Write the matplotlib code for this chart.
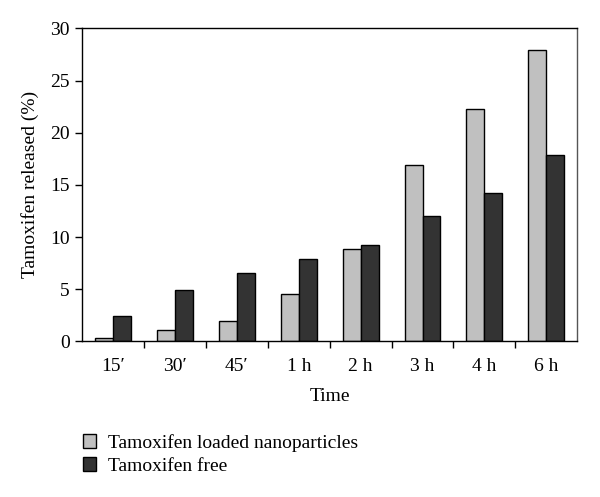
import numpy as np
import matplotlib.pyplot as plt

# data
times = ["15\u2032", "30\u2032", "45\u2032", "1 h", "2 h", "3 h", "4 h", "6 h"]
loaded_np = [0.35, 1.05, 2.0, 4.5, 8.9, 16.9, 22.3, 27.9]
free = [2.45, 4.9, 6.55, 7.9, 9.2, 12.0, 14.2, 17.9]

plt.rcParams['font.family'] = ['Liberation Serif', 'DejaVu Serif']
plt.rcParams['font.size'] = 14

fig = plt.figure(figsize=(6, 4.97), dpi=100)
ax = fig.add_axes([0.137, 0.313, 0.825, 0.630])

x = np.arange(len(times))
w = 0.29
ax.bar(x - w / 2, loaded_np, w, color='#c0c0c0', edgecolor='black',
       linewidth=1, label='Tamoxifen loaded nanoparticles')
ax.bar(x + w / 2, free, w, color='#333333', edgecolor='black',
       linewidth=1, label='Tamoxifen free')

ax.set_xlim(-0.5, len(times) - 0.5)
ax.set_ylim(0, 30)
ax.set_yticks(np.arange(0, 31, 5))
ax.set_xticks(x)
ax.set_xticklabels(times)
ax.set_xticks(np.arange(0.5, len(times) - 0.5, 1), minor=True)
ax.tick_params(axis='x', which='major', length=0, pad=12)
ax.tick_params(axis='x', which='minor', length=5, direction='out', width=1)
ax.tick_params(axis='y', length=5, direction='out', width=1, pad=4)

for s in ax.spines.values():
    s.set_linewidth(1)
ax.spines['right'].set_color('#555555')

ax.set_xlabel('Time', labelpad=9)
ax.set_ylabel('Tamoxifen released (%)', labelpad=8)

fig.legend(loc='upper left', bbox_to_anchor=(0.125, 0.143), frameon=False,
           handlelength=0.7, handleheight=0.7, handletextpad=0.6,
           labelspacing=0.3, borderaxespad=0)

fig.savefig('out.png', dpi=100)
